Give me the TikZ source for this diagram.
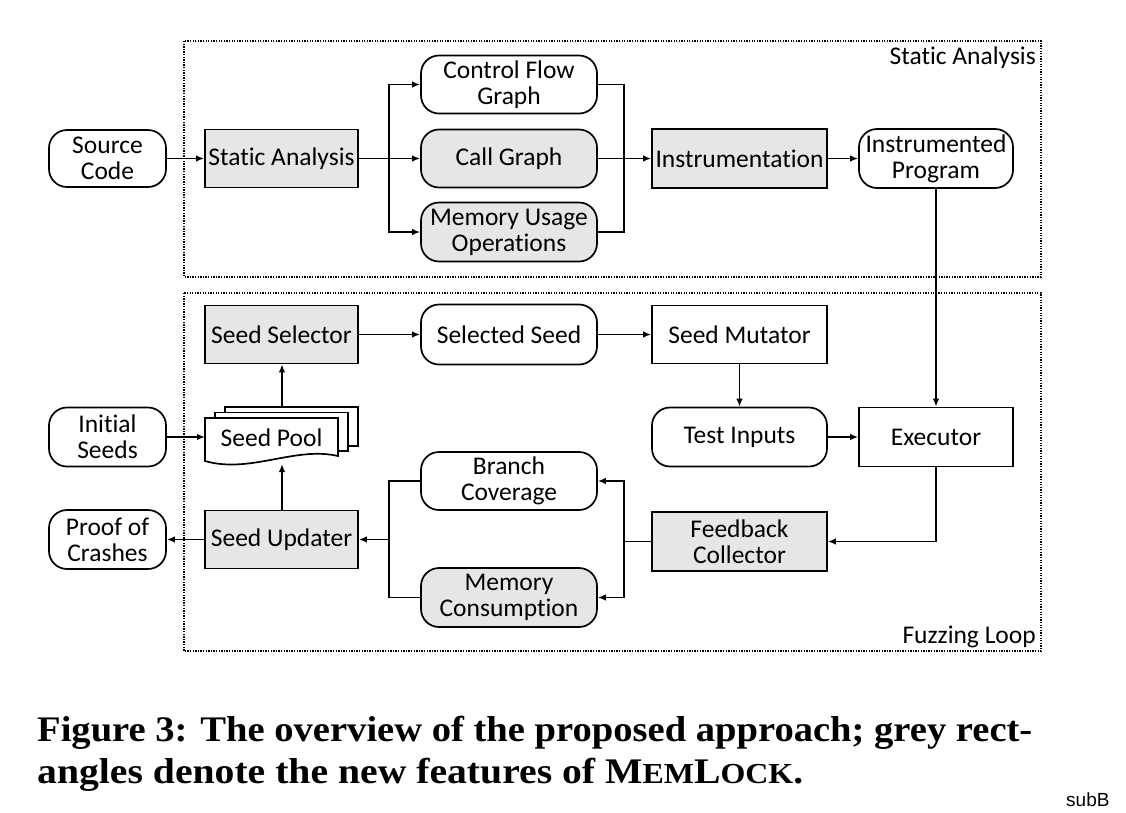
\documentclass[tikz,border=0pt]{standalone}
\usepackage{fontspec}
\usepackage{graphicx}
\setmainfont{Liberation Serif}
\newfontfamily\dfont[Ligatures={NoCommon}]{Carlito}
\newfontfamily\sfont{Liberation Sans}
\usetikzlibrary{arrows.meta}
\definecolor{boxgrey}{RGB}{230,230,230}
\tikzset{
  base/.style={draw, line width=1.7pt, align=center, inner sep=0pt, fill=white,
    font=\dfont\fontsize{25.5}{26}\selectfont},
  box/.style={base},
  rbox/.style={base, rounded corners=18pt},
  grey/.style={fill=boxgrey},
  conn/.style={line width=1.6pt, -{Latex[length=8pt,width=6.5pt]}},
  plain/.style={line width=1.6pt},
  dotbox/.style={line width=1.3pt, dash pattern=on 1.3pt off 1.3pt},
  lbl/.style={inner sep=0pt, font=\dfont\fontsize{25.5}{26}\selectfont},
  captext/.style={inner sep=0pt, anchor=base west, font=\bfseries\fontsize{36}{36}\selectfont}
}
\begin{document}
\begin{tikzpicture}[x=1pt, y=-1pt]
\useasboundingbox (0,0) rectangle (1126,812);
\clip (0,0) rectangle (1126,812);

% frames
\draw[dotbox] (184,41) rectangle (1041,277);
\draw[dotbox] (184,293) rectangle (1041,651);
\node[lbl, anchor=base east] (lblsa) at (1036,64) {Static Analysis};
\node[lbl, anchor=base east] (lblfl) at (1036,643) {Fuzzing Loop};

% static analysis part
\node[rbox, minimum width=117pt, minimum height=57pt] (src) at (107.5,158.5) {Source\\Code};
\node[box, grey, minimum width=153pt, minimum height=58pt] (sa) at (281.5,158.5) {Static Analysis};
\node[rbox, minimum width=176pt, minimum height=58pt] (cfg) at (509,84.5) {Control Flow\\Graph};
\node[rbox, grey, minimum width=176pt, minimum height=58pt] (cg) at (509,158.5) {Call Graph};
\node[rbox, grey, minimum width=176pt, minimum height=59pt] (muo) at (509,232) {Memory Usage\\Operations};
\node[box, grey, minimum width=175pt, minimum height=59pt] (ins) at (739.5,158.5) {Instrumentation};
\node[rbox, minimum width=154pt, minimum height=59pt] (ip) at (936,158.5) {Instrumented\\Program};

% fuzzing loop part
\node[box, grey, minimum width=153pt, minimum height=58pt] (ssel) at (281.5,334.5) {Seed Selector};
\node[rbox, minimum width=176pt, minimum height=60pt] (sseed) at (509,334.5) {Selected Seed};
\node[box, minimum width=175pt, minimum height=58pt] (smut) at (739.5,334.5) {Seed Mutator};
\node[rbox, minimum width=117pt, minimum height=59pt] (is) at (107.5,437) {Initial\\Seeds};
\node[rbox, minimum width=175pt, minimum height=59pt] (ti) at (739.5,437) {Test Inputs};
\node[box, minimum width=154pt, minimum height=59pt] (ex) at (936,437) {Executor};
\node[rbox, minimum width=176pt, minimum height=58pt] (bc) at (509,481) {Branch\\Coverage};
\node[box, grey, minimum width=153pt, minimum height=58pt] (su) at (281.5,539.5) {Seed Updater};
\node[rbox, minimum width=117pt, minimum height=59pt] (poc) at (107.5,539.5) {Proof of\\Crashes};
\node[box, grey, minimum width=175pt, minimum height=59pt] (fc) at (739.5,541.5) {Feedback\\Collector};
\node[rbox, grey, minimum width=176pt, minimum height=59pt] (mc) at (509,597.5) {Memory\\Consumption};

% seed pool (stack of documents)
\filldraw[fill=white, line width=1.7pt] (225,446) -- (225,407) -- (358,407) -- (358,446) -- cycle;
\filldraw[fill=white, line width=1.7pt] (215,451) -- (215,412.5) -- (348,412.5) -- (348,451) -- cycle;
\filldraw[fill=white, line width=1.7pt] (205,418) -- (338,418) -- (338,456)
  .. controls (295,446) and (250,474) .. (205,461) -- cycle;
\node[lbl] (pool) at (271.5,437.5) {Seed Pool};
\coordinate (poolL) at (205,437);
\coordinate (poolT) at (282,407);
\coordinate (poolB) at (282,464);

% connectors: static analysis
\coordinate (f1) at (389,158.5);
\coordinate (m1) at (624,158.5);
\draw[conn] (src) -- (sa);
\draw[conn] (sa) -- (cg);
\draw[conn] (f1) |- (cfg.west);
\draw[conn] (f1) |- (muo.west);
\draw[plain] (cfg.east) -| (m1);
\draw[plain] (muo.east) -| (m1);
\draw[conn] (cg) -- (ins);
\draw[conn] (ins) -- (ip);
\draw[conn] (ip) -- (ex);

% connectors: fuzzing loop
\draw[conn] (ssel) -- (sseed);
\draw[conn] (sseed) -- (smut);
\draw[conn] (smut) -- (ti);
\draw[conn] (ti) -- (ex);
\draw[conn] (ex.south) |- (fc.east);
\coordinate (m2) at (624,541.5);
\draw[plain] (fc.west) -- (m2);
\draw[conn] (m2) |- (bc.east);
\draw[conn] (m2) |- (mc.east);
\coordinate (f2) at (389,539.5);
\draw[plain] (bc.west) -| (f2);
\draw[plain] (mc.west) -| (f2);
\draw[conn] (f2) -- (su.east);
\draw[conn] (su) -- (poc);
\draw[conn] (su.north -| poolB) -- (poolB);
\draw[conn] (poolT) -- (ssel.south -| poolT);
\draw[conn] (is) -- (poolL);

% caption
\node[captext] (cap1) at (37,741) {\resizebox{995pt}{\height}{Figure 3: The overview of the proposed approach; grey rect-}};
\node[captext] (cap2) at (37,783) {\resizebox{766pt}{\height}{angles denote the new features of M{\fontsize{29}{29}\selectfont EM}L{\fontsize{29}{29}\selectfont OCK}.}};
\node[inner sep=0pt, anchor=base west, font=\sfont\fontsize{19}{19}\selectfont] (sub) at (1066,806) {subB};
\end{tikzpicture}
\end{document}
